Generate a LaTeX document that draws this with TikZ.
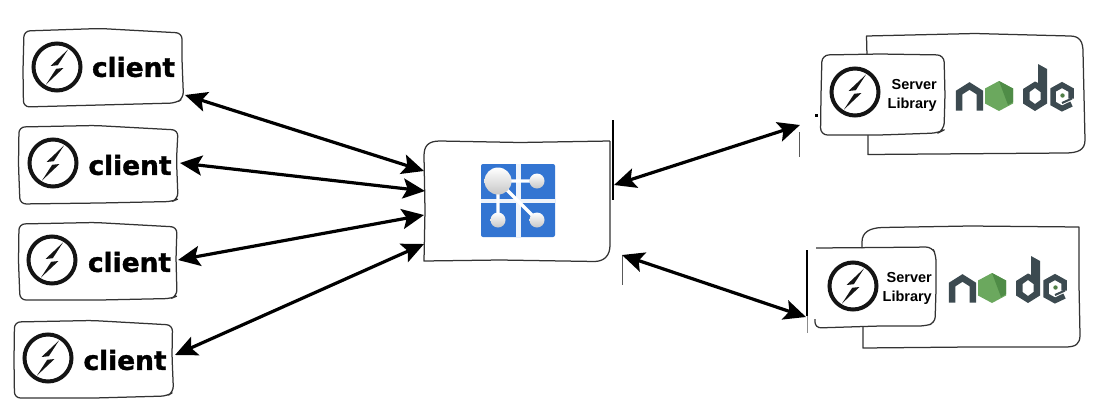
\documentclass[tikz,border=0pt]{standalone}
\usepackage{fontspec}
\setmainfont{Liberation Sans}
\newfontfamily\clientfont[FakeBold=1.2]{DejaVu Sans Bold}
\usetikzlibrary{arrows.meta}
\definecolor{inkline}{HTML}{333333}
\definecolor{gcpblue}{HTML}{3375D2}
\definecolor{nodedark}{HTML}{3C4A50}
\definecolor{nodegreen}{HTML}{6BA85E}
\definecolor{nodegreendark}{HTML}{4F8C47}
\tikzset{
  sketch/.style={draw=inkline,line width=1.25pt,line join=round},
  sketchround/.style={sketch,rounded corners=6pt},
  duplex/.style={line width=3.2pt,black,{Stealth[length=22pt,width=20pt,inset=4.5pt]}-{Stealth[length=22pt,width=20pt,inset=4.5pt]}},
  tick/.style={draw=black,line width=1.5pt},
  clientlabel/.style={inner sep=0pt,font=\clientfont\fontsize{26.4}{26.4}\selectfont},
  serverlabel/.style={inner sep=0pt,align=right,anchor=east,font=\bfseries\fontsize{14.5}{14.5}\selectfont},
  socketlogo/.pic={
    \draw[line width=4pt,draw=black!92] (0,0) circle (23.5);
    \fill[black!92] (11,-17.5) -- (-6.5,-1) -- (0.8,-1.8) -- cycle;
    \fill[black!92] (-11,17.5) -- (6.5,1) -- (-0.8,1.8) -- cycle;
  },
  nodelogo/.pic={
    \draw[nodedark,line width=6.5pt,line join=miter] (3.2,45.5) -- (3.2,27.5) -- (13.5,21) -- (23.8,27.5) -- (23.8,45.5);
    \fill[nodegreen] (43,16) -- (57,23.5) -- (57,38.5) -- (43,46) -- (29,38.5) -- (29,23.5) -- cycle;
    \fill[nodegreendark] (43,16) -- (57,23.5) -- (57,37) -- (52,40) -- cycle;
    \fill[nodedark,even odd rule] (82,-1) -- (91,4) -- (91,38.5) -- (79,46) -- (67,38.5) -- (67,24) -- (79,16.5) -- (82,18) -- cycle
      (79,23) -- (73.5,27) -- (73.5,35) -- (79,39) -- (84.5,35) -- (84.5,27) -- cycle;
    \draw[nodedark,line width=5.5pt,line join=miter] (115.5,39) -- (106,43.5) -- (97,38.5) -- (97,25) -- (106,20) -- (115,25) -- (115,33.5);
    \draw[nodedark,line width=2pt] (116,33.5) -- (106,38);
    \fill[nodegreen!75!black] (106.5,30.5) circle (2.2);
  },
}
\begin{document}
\begin{tikzpicture}[x=1pt,y=-1pt]
\useasboundingbox[fill=white] (0,0) rectangle (1098,418);

% client boxes
\node[minimum width=160pt,minimum height=76pt,inner sep=0pt] (box1) at (103,69) {};
\node[minimum width=159pt,minimum height=76pt,inner sep=0pt] (box2) at (98.5,165) {};
\node[minimum width=158pt,minimum height=76pt,inner sep=0pt] (box3) at (98,262) {};
\node[minimum width=159pt,minimum height=76pt,inner sep=0pt] (box4) at (93.5,360) {};
\draw[sketchround] (23.5,107) -- (23,70) -- (24,31) -- (100,28.5) -- (182,33) -- (182,60) -- (183.5,98) -- (176,103) -- (100,105) -- cycle;
\draw[sketchround] (20,204) -- (18.5,165) -- (19,127) -- (95,125.5) -- (178,130) -- (176.5,160) -- (178,199) -- (172,201.5) -- (100,203) -- cycle;
\draw[sketchround] (20,300) -- (18.5,262) -- (19,224) -- (95,222.5) -- (177,227) -- (176,258) -- (177,296) -- (171,298.5) -- (100,300) -- cycle;
\draw[sketchround] (14.5,398) -- (14,360) -- (14.5,322) -- (92,320.5) -- (172.5,325) -- (172,356) -- (173.5,392) -- (167,396) -- (95,398) -- cycle;

\pic at (57,67) {socketlogo};
\pic at (53,163) {socketlogo};
\pic at (52,260) {socketlogo};
\pic at (48,358) {socketlogo};
\node[clientlabel] (t1) at (133.5,67) {client};
\node[clientlabel] (t2) at (130,165) {client};
\node[clientlabel] (t3) at (129.5,262) {client};
\node[clientlabel] (t4) at (125,360) {client};

% centre box
\node[minimum width=186pt,minimum height=120pt,inner sep=0pt] (hub) at (517,201) {};
\draw[sketch] (610,141) -- (520,142.5) -- (440,141) .. controls (428,141) and (424,146) .. (424,156) -- (425,210) -- (424,261) -- (500,260) -- (595,261.5) .. controls (605,261) and (610,255) .. (610,245) -- (610,141);
\draw[tick] (613,120) -- (613,200);

% hub logo
\fill[gcpblue,rounded corners=2pt] (481,164) rectangle (555,237);
\fill[white!92!gcpblue] (516,164) rectangle (520.5,237);
\fill[white!92!gcpblue] (481,198.5) rectangle (555,202.5);
\draw[white,line width=3.4pt] (498,181) -- (537,181) (498,181) -- (498,220) (498,181) -- (537,220);
\shade[shading=axis,top color=white,bottom color=black!22] (498,181) circle (13.5);
\shade[shading=axis,top color=white,bottom color=black!22] (537,181) circle (7.5);
\shade[shading=axis,top color=white,bottom color=black!22] (498,220) circle (7.5);
\shade[shading=axis,top color=white,bottom color=black!22] (537,220) circle (7.5);

% server 1
\draw[sketch] (867,56) -- (866.5,36) -- (975,33.5) -- (1070,36) .. controls (1080,36) and (1083,42) .. (1083,52) -- (1085,140) .. controls (1085,150) and (1078,153) .. (1065,153) -- (868,154.5) -- (868,135);
\node[minimum width=124pt,minimum height=82pt,inner sep=0pt] (srv1) at (882,95) {};
\draw[sketch,fill=white,rounded corners=7pt] (820.5,135) -- (821,95) -- (822,55) -- (880,54) -- (944,55) -- (945,95) -- (944,130) -- (938,133) -- (880,135) -- cycle;
\pic at (855,92) {socketlogo};
\node[serverlabel] (s1a) at (937,85) {Server};
\node[serverlabel] (s1b) at (937,105) {Library};
\pic at (956,65) {nodelogo};
\fill[black] (815,114) rectangle (817.5,117);
\draw[draw=black!65,line width=1pt] (799,132) -- (799,157);

% server 2
\draw[sketch] (862,248) -- (862,242) .. controls (862,232) and (870,228) .. (882,227.5) -- (970,226) -- (1079,227) -- (1079,285) -- (1080,335) .. controls (1080,344) and (1076,347) .. (1065,347) -- (970,347) -- (863,348) -- (863,327);
\node[minimum width=129pt,minimum height=84pt,inner sep=0pt] (srv2) at (872,288) {};
\fill[white] (808,249) rectangle (936,326);
\draw[sketch,rounded corners=6pt] (816,248) -- (880,247.5) -- (932,247) -- (936,255) -- (936,290) -- (935,323) -- (925,326) -- (880,326) -- (815,328) [sharp corners] -- (815,319);
\pic at (853,286) {socketlogo};
\node[serverlabel] (s2a) at (932,278) {Server};
\node[serverlabel] (s2b) at (932,298) {Library};
\pic at (949,257) {nodelogo};
\draw[tick] (807,250) -- (807,316);
\draw[draw=black!45,line width=1pt] (807,316) -- (807,333);
\draw[draw=black!65,line width=1pt] (622,255) -- (622,285);

% connector ends
\coordinate (c1e) at (185,95);
\coordinate (c2e) at (180,163);
\coordinate (c3e) at (178,260);
\coordinate (c4e) at (175,355);
\coordinate (h1) at (424,171);
\coordinate (h2) at (425,191);
\coordinate (h3) at (424,215);
\coordinate (h4) at (424,244);
\coordinate (hr1) at (614,185);
\coordinate (hr2) at (622,255);
\coordinate (s1e) at (800,125);
\coordinate (s2e) at (806,317);
\draw[duplex] (c1e) -- (h1);
\draw[duplex] (c2e) -- (h2);
\draw[duplex] (c3e) -- (h3);
\draw[duplex] (c4e) -- (h4);
\draw[duplex] (hr1) -- (s1e);
\draw[duplex] (hr2) -- (s2e);
\end{tikzpicture}
\end{document}
